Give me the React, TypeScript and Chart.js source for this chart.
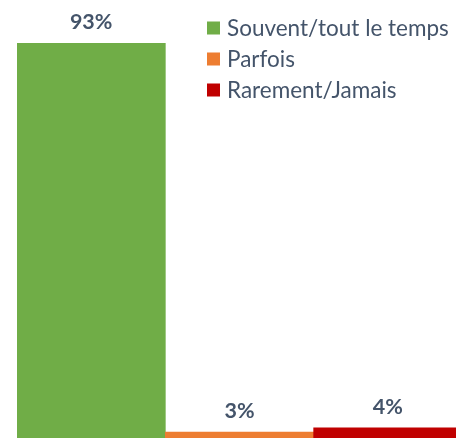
import React, { useEffect, useRef } from "react";
import { Chart, registerables } from "chart.js";

Chart.register(...registerables);

const categories = ["Souvent/tout le temps", "Parfois", "Rarement/Jamais"];
const values = [93, 3, 4];
const valueLabels = ["93%", "3%", "4%"];
const colors = ["#70AD47", "#ED7D31", "#C00000"];
const TEXT_COLOR = "#44546A";

const valueLabelPlugin = {
  id: "valueLabels",
  afterDatasetsDraw(chart: any) {
    const ctx = chart.ctx;
    const meta = chart.getDatasetMeta(0);
    ctx.save();
    ctx.font = "bold 21.5px Lato";
    ctx.fillStyle = TEXT_COLOR;
    ctx.textAlign = "center";
    ctx.textBaseline = "middle";
    meta.data.forEach((bar: any, i: number) => {
      ctx.fillText(valueLabels[i], bar.x, bar.y - 21);
    });
    ctx.restore();
  },
};

const cornerLegendPlugin = {
  id: "cornerLegend",
  afterDraw(chart: any) {
    const ctx = chart.ctx;
    ctx.save();
    ctx.font = "22.5px Lato";
    ctx.textBaseline = "middle";
    ctx.textAlign = "left";
    categories.forEach((c, i) => {
      const y = 28 + i * 31;
      ctx.fillStyle = colors[i];
      ctx.fillRect(207, y - 6.5, 13, 13);
      ctx.fillStyle = TEXT_COLOR;
      ctx.fillText(c, 227, y + 1);
    });
    ctx.restore();
  },
};

export default function App() {
  const ref = useRef<HTMLCanvasElement | null>(null);

  useEffect(() => {
    document.body.style.margin = "0";
    document.body.style.overflow = "hidden";
    const canvas = ref.current;
    if (!canvas) return;
    const chart = new Chart(canvas, {
      type: "bar",
      data: {
        labels: categories,
        datasets: [
          {
            data: values,
            backgroundColor: colors,
            borderWidth: 0,
            barPercentage: 1,
            categoryPercentage: 1,
          },
        ],
      },
      options: {
        responsive: false,
        animation: false,
        devicePixelRatio: 1,
        layout: { padding: { left: 17, top: 13, right: 0, bottom: 0 } },
        scales: {
          x: { display: false },
          y: { display: false, min: 0, max: 100 },
        },
        plugins: {
          legend: { display: false },
          tooltip: { enabled: false },
        },
      },
      plugins: [valueLabelPlugin, cornerLegendPlugin],
    });
    return () => chart.destroy();
  }, []);

  return (
    <div
      style={{
        position: "fixed",
        left: 0,
        top: 0,
        width: 456,
        height: 438,
        overflow: "hidden",
        background: "#fff",
      }}
    >
      <canvas ref={ref} width={462} height={445} style={{ display: "block", width: 462, height: 445 }} />
    </div>
  );
}
